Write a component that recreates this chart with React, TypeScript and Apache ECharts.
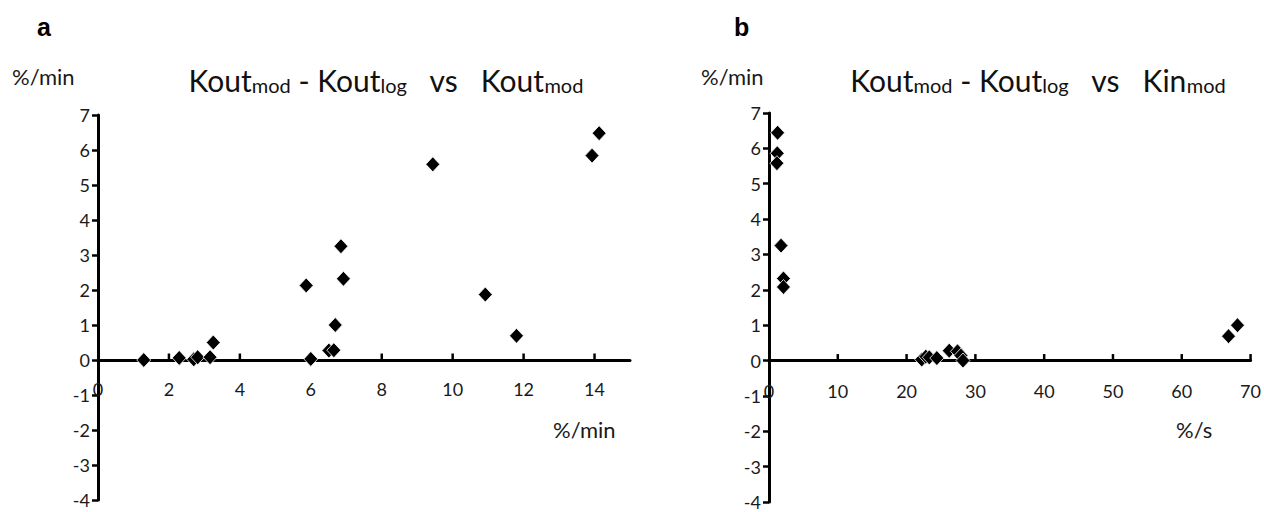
import React, { useEffect, useRef } from "react";
import * as echarts from "echarts";

// Panel a: Kout_mod (x, %/min) vs Kout_mod - Kout_log (y, %/min)
const koutModA = [1.29, 2.29, 2.7, 2.81, 3.16, 3.25, 5.87, 6.0, 6.51, 6.65, 6.69, 6.85, 6.92, 9.44, 10.92, 11.8, 13.93, 14.13];
const diffA = [0.0, 0.06, 0.02, 0.08, 0.08, 0.5, 2.13, 0.03, 0.27, 0.28, 1.0, 3.25, 2.32, 5.59, 1.87, 0.69, 5.84, 6.48];

// Panel b: Kin_mod (x, %/s) vs Kout_mod - Kout_log (y, %/min)
const kinModB = [1.25, 1.2, 1.15, 1.75, 2.1, 2.1, 22.2, 22.8, 23.3, 24.4, 26.2, 27.4, 27.9, 28.2, 66.8, 68.1];
const diffB = [6.44, 5.86, 5.58, 3.25, 2.32, 2.08, 0.03, 0.11, 0.09, 0.07, 0.28, 0.26, 0.14, 0.0, 0.69, 1.0];

// x-axis tick values (tick marks drawn on the y = 0 line)
const xTicksA = [2, 4, 6, 8, 10, 12, 14];
const xTicksB = [10, 20, 30, 40, 50, 60, 70];

const xMaxA = 15;
const xMaxB = 70;
const xStepA = 2;
const xStepB = 10;
const yMin = -4;
const yMax = 7;

const panelLetters = ["a", "b"];
const yUnit = "%/min";
const xUnits = ["%/min", "%/s"];
const titleMain = ["Kout", " - Kout", "   vs   Kout", "   vs   Kin"];

const FONT = "Lato, 'Open Sans', sans-serif";

const gridA = { left: 98, top: 115, width: 532, height: 385 };
const gridB = { left: 769, top: 113, width: 484, height: 389 };

function pair(xs: number[], ys: number[]) {
  return xs.map((x, i) => [x, ys[i]]);
}

// offset that lifts the x axis from the grid bottom to the y = 0 line
function zeroOffset(height: number) {
  return -((0 - yMin) / (yMax - yMin)) * height;
}

function xAxis(grid: number, max: number, interval: number, margin: number, height: number) {
  return {
    gridIndex: grid,
    type: "value",
    position: "bottom",
    offset: zeroOffset(height),
    min: 0,
    max,
    interval,
    splitLine: { show: false },
    axisLine: { show: true, onZero: false, lineStyle: { color: "#000", width: 3 } },
    axisTick: { show: false },
    axisLabel: {
      margin,
      color: "#1a1a1a",
      fontSize: 18,
      fontFamily: FONT,
      formatter: (v: number) => (v % interval === 0 ? String(v) : ""),
    },
  };
}

function yAxis(grid: number) {
  return {
    gridIndex: grid,
    type: "value",
    min: yMin,
    max: yMax,
    interval: 1,
    splitLine: { show: false },
    axisLine: { show: true, onZero: false, lineStyle: { color: "#000", width: 3 } },
    axisTick: { show: true, inside: false, length: 6, lineStyle: { color: "#000", width: 2.5 } },
    axisLabel: { margin: 8, color: "#1a1a1a", fontSize: 18, fontFamily: FONT },
  };
}

const rich = {
  n: { fontSize: 30, fontFamily: FONT, fill: "#111", lineHeight: 36, verticalAlign: "bottom" },
  s: { fontSize: 20, fontFamily: FONT, fill: "#111", lineHeight: 15, verticalAlign: "bottom" },
};

function titleText(x: number, y: number, text: string) {
  return {
    type: "text",
    x,
    y,
    style: { text, align: "center", verticalAlign: "middle", rich, fill: "#111" },
  };
}

function plainText(x: number, y: number, text: string, size: number, bold = false, family = FONT) {
  return {
    type: "text",
    x,
    y,
    style: {
      text,
      fill: bold ? "#000" : "#1a1a1a",
      fontSize: size,
      fontWeight: bold ? "bold" : "normal",
      fontFamily: family,
      align: "left",
      verticalAlign: "middle",
    },
  };
}

export default function App() {
  const ref = useRef<HTMLDivElement>(null);
  useEffect(() => {
    if (!ref.current) return;
    const chart = echarts.init(ref.current, null, { renderer: "svg" });
    const marker = {
      type: "scatter",
      symbol: "diamond",
      symbolSize: [14, 15],
      itemStyle: { color: "#000", opacity: 1, borderColor: "#fff", borderWidth: 0.8 },
      z: 5,
    };
    const baseGraphic = [
      plainText(37, 27, panelLetters[0], 25, true, "'Liberation Sans', Arial, sans-serif"),
      plainText(734, 27, panelLetters[1], 25, true, "'Liberation Sans', Arial, sans-serif"),
      plainText(12, 76, yUnit, 22),
      plainText(701, 76, yUnit, 22),
      plainText(553, 429, xUnits[0], 22),
      plainText(1176, 429, xUnits[1], 22),
      titleText(386, 77, `{n|${titleMain[0]}}{s|mod}{n|${titleMain[1]}}{s|log}{n|${titleMain[2]}}{s|mod}`),
      titleText(1038, 77, `{n|${titleMain[0]}}{s|mod}{n|${titleMain[1]}}{s|log}{n|${titleMain[3]}}{s|mod}`),
    ];
    const option: any = {
      animation: false,
      backgroundColor: "#fff",
      textStyle: { fontFamily: FONT },
      grid: [gridA, gridB],
      xAxis: [
        xAxis(0, xMaxA, xStepA, 20, gridA.height),
        xAxis(1, xMaxB, xStepB, 21, gridB.height),
      ],
      yAxis: [yAxis(0), yAxis(1)],
      series: [
        { ...marker, xAxisIndex: 0, yAxisIndex: 0, data: pair(koutModA, diffA) },
        { ...marker, xAxisIndex: 1, yAxisIndex: 1, data: pair(kinModB, diffB) },
      ],
      graphic: baseGraphic,
    };
    chart.setOption(option);

    // x-axis tick marks on the zero line, placed through the chart's own scales
    const tickLines: any[] = [];
    const addTicks = (gridIndex: number, ticks: number[]) => {
      ticks.forEach((v) => {
        const p = chart.convertToPixel({ gridIndex } as any, [v, 0]) as number[];
        if (!p) return;
        tickLines.push({
          type: "line",
          z: 100,
          silent: true,
          shape: { x1: p[0], y1: p[1], x2: p[0], y2: p[1] - 6.5 },
          style: { stroke: "#000", lineWidth: 2.5 },
        });
      });
    };
    addTicks(0, xTicksA);
    addTicks(1, xTicksB);
    chart.setOption({ graphic: [...baseGraphic, ...tickLines] });

    return () => chart.dispose();
  }, []);
  return (
    <div
      ref={ref}
      style={{ position: "absolute", left: 0, top: 0, width: 1264, height: 512, background: "#fff" }}
    />
  );
}
